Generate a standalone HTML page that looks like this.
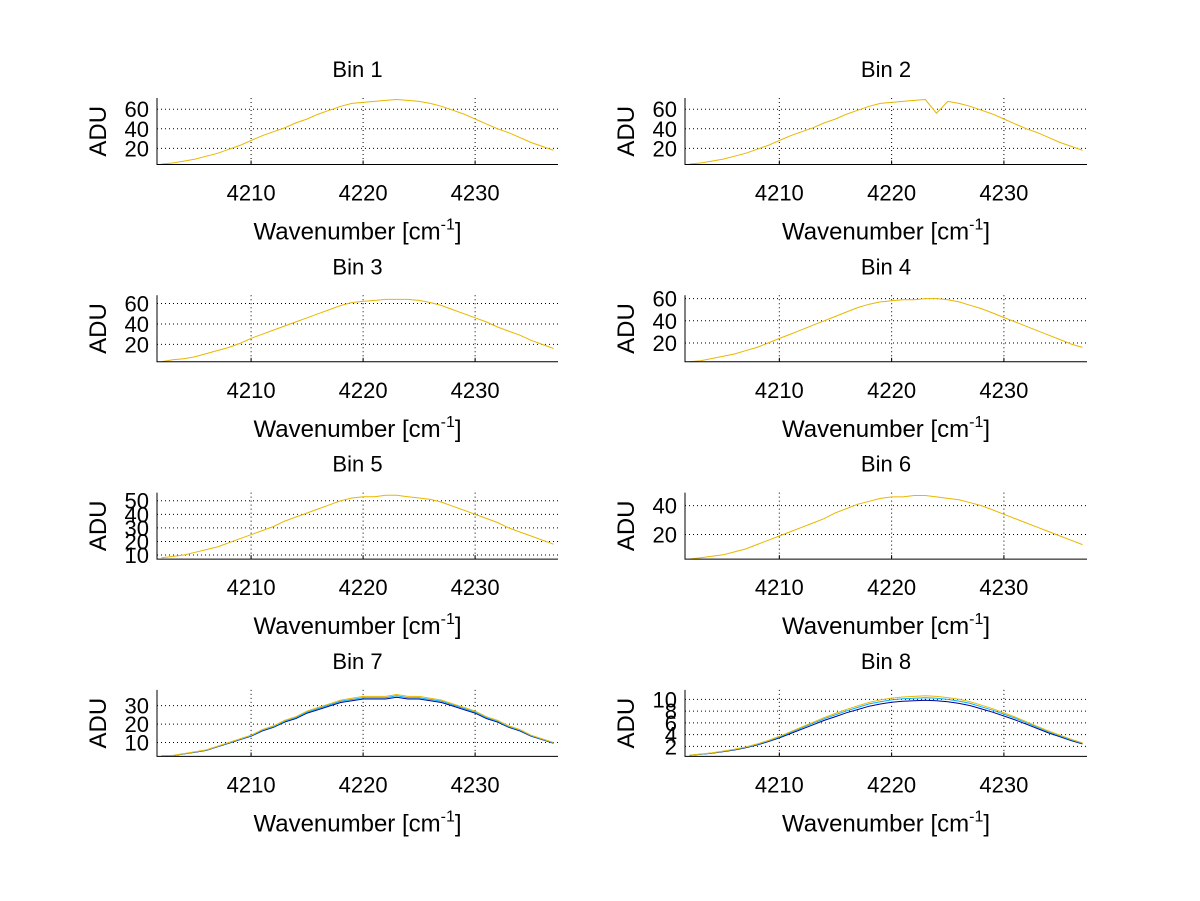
<!DOCTYPE html>
<html><head><meta charset="utf-8"><style>
body{margin:0;background:#fff}
svg{display:block}
text{font-family:"Liberation Sans",sans-serif;fill:#000}
</style></head><body>
<svg id="c" width="1200" height="901" viewBox="0 0 1200 901"></svg>
<script>
const wavenumbers=[4202,4203,4204,4205,4206,4207,4208,4209,4210,4211,4212,4213,4214,4215,4216,4217,4218,4219,4220,4221,4222,4223,4224,4225,4226,4227,4228,4229,4230,4231,4232,4233,4234,4235,4236,4237];
const xTicks=[4210,4220,4230];
const bin1=[4,5,7,9,12,15,19,23,28,33,37,41,46,50,55,59,63,66,67,68,69,70,69,68,66,63,59,55,50,45,40,36,31,26,22,18];
const bin2=[4,5,7,9,12,15,19,23,28,33,37,41,46,50,55,59,63,66,67,68,69,70,56,68,66,63,59,55,50,45,40,36,31,26,22,18];
const bin3=[3,5,6,8,11,14,17,21,26,30,34,38,42,46,50,54,58,61,62,63,64,64,64,63,61,58,54,50,46,42,37,33,29,24,20,16];
const bin4=[3,4,6,8,10,13,16,20,24,28,32,36,40,44,48,52,55,57,58,59,59,60,60,59,57,54,51,47,43,39,35,31,27,23,19,16];
const bin5=[8,9,10,12,14,16,19,22,25,28,31,35,38,41,44,47,50,52,53,53,54,54,53,52,51,49,46,43,40,37,34,30,27,24,21,18];
const bin6=[3,4,5,6,8,10,13,16,19,22,25,28,31,35,38,41,43,45,46,46,47,47,46,45,44,42,40,37,34,31,28,25,22,19,16,13];
const bin7=[3,3,4,5,6,8,10,12,14,17,19,22,24,27,29,31,33,34,35,35,35,36,35,35,34,33,31,29,27,24,22,19,17,14,12,10];
const bin8=[0.5,0.7,0.9,1.2,1.5,1.9,2.4,3.0,3.7,4.5,5.3,6.1,6.9,7.6,8.3,8.9,9.5,9.9,10.2,10.4,10.5,10.6,10.5,10.3,10.0,9.6,9.0,8.4,7.7,7.0,6.2,5.4,4.6,3.9,3.2,2.6];
const seriesScale7=[0.96,0.98,1.0];
const seriesScale8=[0.93,0.97,1.0];
const seriesColors=['#00009a','#00b4ff','#e8b800'];
const yTicksList=[[20,40,60],[20,40,60],[20,40,60],[20,40,60],[10,20,30,40,50],[20,40],[10,20,30],[2,4,6,8,10]];
const yLims=[[3.5,71.5],[3.5,71.5],[3,68],[3,63],[7,56],[3,49],[2.5,38.5],[0.3,11.6]];
const binData=[bin1,bin2,bin3,bin4,bin5,bin6,bin7,bin8];
const xMin=4201.6,xMax=4237.4;
const svg=document.getElementById('c');
const NS='http://www.w3.org/2000/svg';
function mk(tag,attrs,parent){const e=document.createElementNS(NS,tag);for(const k in attrs)e.setAttribute(k,attrs[k]);parent.appendChild(e);return e;}
for(let b=0;b<8;b++){
  const col=b%2,row=Math.floor(b/2);
  const L=col?685:157,R=col?1087:558,T=98+row*197.3,B=T+66.5;
  const g=mk('g',{},svg);
  
  
  const sx=v=>L+(v-xMin)/(xMax-xMin)*(R-L);
  const yl=yLims[b];
  const sy=v=>B-(v-yl[0])/(yl[1]-yl[0])*(B-T);
  xTicks.forEach(t=>{
    const l=mk('line',{x1:sx(t),x2:sx(t),y1:T,y2:B,stroke:'#000','stroke-width':1,'stroke-dasharray':'1,3'},g);
    
    
    mk('line',{x1:sx(t),x2:sx(t),y1:B,y2:B-4,stroke:'#000'},g);
    const tx=mk('text',{x:sx(t),y:B+36,'font-size':22,'text-anchor':'middle'},g);
    tx.textContent=t;
    
    
  });
  yTicksList[b].forEach(t=>{
    const l=mk('line',{x1:L,x2:R,y1:sy(t),y2:sy(t),stroke:'#000','stroke-width':1,'stroke-dasharray':'1,3'},g);
    
    
    const tx=mk('text',{x:L-8,y:sy(t)+8,'font-size':22,'text-anchor':'end'},g);
    tx.textContent=t;
    
    
  });
  const nS=(b>=6)?3:1;
  for(let s=0;s<nS;s++){
    const sc=b===6?seriesScale7[s]:b===7?seriesScale8[s]:1;
    const color=nS===1?'#e8b800':seriesColors[s];
    const d=binData[b].map((v,i)=>(i?'L':'M')+sx(wavenumbers[i]).toFixed(1)+','+sy(Math.max(yl[0],v*sc)).toFixed(1)).join('');
    const p=mk('path',{d:d,fill:'none',stroke:color,'stroke-width':1},g);
    
    
  }
  const ax=mk('path',{d:`M${L},${T}V${B}H${R}`,fill:'none',stroke:'#000','stroke-width':1},g);
  
  
  const cx=(L+R)/2;
  const title=mk('text',{x:cx,y:T-21,'font-size':22,'text-anchor':'middle'},g);
  title.textContent='Bin '+(b+1);
  
  
  const xl=mk('text',{x:cx,y:B+75,'font-size':24,'text-anchor':'middle'},g);
  xl.innerHTML='Wavenumber [cm<tspan dy="-10" font-size="16">-1</tspan><tspan dy="10">]</tspan>';
  
  
  const ylab=mk('text',{x:0,y:0,'font-size':24,'text-anchor':'middle',transform:`translate(${L-51},${(T+B)/2}) rotate(-90)`},g);
  ylab.textContent='ADU';
  
  
}
</script>
</body></html>
